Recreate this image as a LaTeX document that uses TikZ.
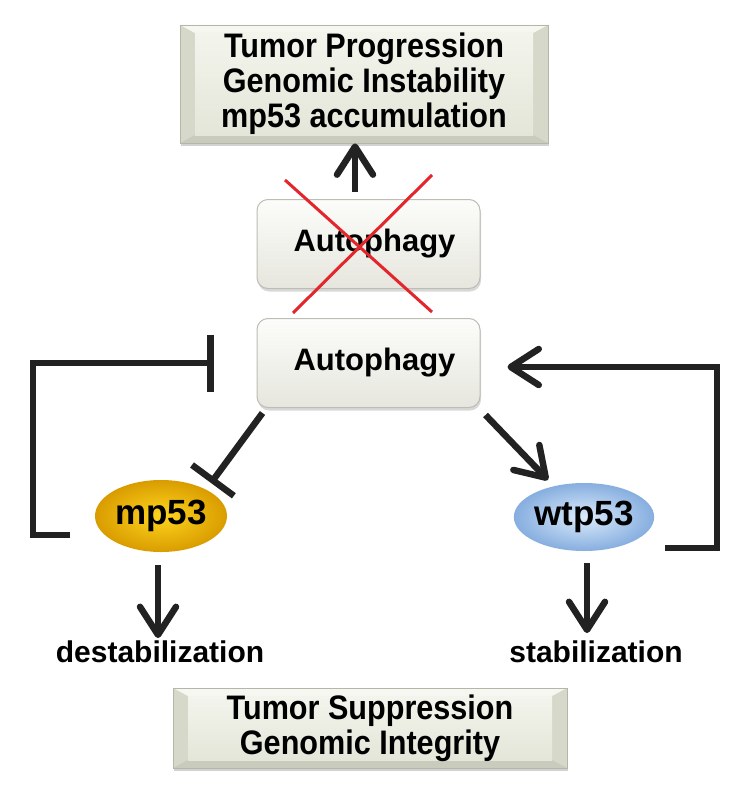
\documentclass[tikz,border=0pt]{standalone}
\usepackage{fontspec}
\setmainfont{Liberation Sans}
\newfontfamily\condfont{Liberation Sans}[FakeStretch=0.9]
\usetikzlibrary{arrows.meta,shapes.geometric,calc,shadows}
\definecolor{ink}{HTML}{222222}
\definecolor{facetop}{HTML}{F3F4EC}
\definecolor{facebot}{HTML}{E4E6D9}
\definecolor{bevtop}{HTML}{F6F7F1}
\definecolor{bevbot}{HTML}{C9CCBC}
\definecolor{bevside}{HTML}{D6D8C9}
\definecolor{boxline}{HTML}{B4B6A9}
\definecolor{autotop}{HTML}{FCFCFA}
\definecolor{autobot}{HTML}{E6E6DE}
\definecolor{autoline}{HTML}{BDBDB4}
\definecolor{goldin}{HTML}{FFD51E}
\definecolor{goldout}{HTML}{D99C00}
\definecolor{bluein}{HTML}{DCEBFB}
\definecolor{blueout}{HTML}{86AEDF}
\definecolor{redx}{HTML}{E3262B}
\begin{document}
\begin{tikzpicture}[x=1pt,y=-1pt,
  bevelbox/.style={draw=boxline, line width=0.8pt, fill=bevside,
    drop shadow={shadow xshift=1pt, shadow yshift=-2.5pt, opacity=0.35},
    align=center, inner sep=0pt,
    font=\condfont\bfseries\fontsize{34}{35}\selectfont,
    path picture={
      \coordinate (NW) at (path picture bounding box.north west);
      \coordinate (NE) at (path picture bounding box.north east);
      \coordinate (SW) at (path picture bounding box.south west);
      \coordinate (SE) at (path picture bounding box.south east);
      \fill[bevtop] (NW) -- (NE) -- ($(NE)+(-15pt,-8pt)$) -- ($(NW)+(15pt,-8pt)$) -- cycle;
      \fill[bevbot] (SW) -- (SE) -- ($(SE)+(-15pt,8pt)$) -- ($(SW)+(15pt,8pt)$) -- cycle;
      \shade[top color=facetop, bottom color=facebot] ($(NW)+(15pt,-8pt)$) rectangle ($(SE)+(-15pt,8pt)$);
    }},
  autobox/.style={draw=autoline, line width=1pt, rounded corners=11pt,
    top color=autotop, bottom color=autobot,
    drop shadow={shadow xshift=1pt, shadow yshift=-3pt, opacity=0.3},
    minimum width=223pt, minimum height=89pt, inner sep=0pt,
    font=\bfseries\fontsize{31}{35}\selectfont},
  protein/.style={ellipse, draw=none, inner sep=0pt,
    font=\bfseries\fontsize{35}{38}\selectfont},
  lbl/.style={inner sep=0pt, font=\bfseries\fontsize{30}{34}\selectfont},
  actarrow/.style={draw=ink, line width=6.5pt,
    -{Straight Barb[length=28pt,width=36pt,line width=6.5pt,round]}},
  inhibit/.style={draw=ink, line width=6.5pt, line join=miter,
    -{Bar[width=#1,line width=6.5pt]}},
  inhibit/.default=57pt,
  crossline/.style={draw=redx, line width=3pt}
]
\useasboundingbox (0,0) rectangle (750,800);
\fill[white] (0,0) rectangle (750,800);

% boxes
\node[bevelbox, minimum width=368pt, minimum height=118pt] (top) at (364,84)
  {Tumor Progression\\Genomic Instability\\mp53 accumulation};
\node[autobox] (box1) at (368.5,244) {\hspace*{12pt}Autophagy};
\node[autobox] (box2) at (368.5,363) {\hspace*{12pt}Autophagy};
\node[bevelbox, minimum width=394pt, minimum height=80pt] (bottom) at (370,728)
  {Tumor Suppression\\Genomic Integrity};

% proteins
\node[protein, minimum width=132pt, minimum height=72pt,
  inner color=goldin, outer color=goldout] (mp53) at (161,516) {mp53};
\node[protein, minimum width=134pt, minimum height=68pt,
  inner color=bluein, outer color=blueout] (wtp53) at (584,517) {wtp53};

% labels
\node[lbl, anchor=base] (destab) at (160,662) {destabilization};
\node[lbl, anchor=base] (stab) at (596,662) {stabilization};

% red cross over the first Autophagy box
\draw[crossline] (285,180) -- (432,312);
\draw[crossline] (432,175) -- (293,313);

% up arrow to tumor progression
\coordinate (up1) at ([shift={(-13.5pt,7pt)}]box1.north);
\draw[actarrow] (up1) -- (up1 |- top.south);

% left feedback: mp53 inhibits autophagy
\coordinate (mpL) at (70,535);
\coordinate (lcorner) at (33,363);
\coordinate (lbar) at ([xshift=-43pt]box2.west);
\draw[inhibit] (mpL) -| (lcorner) -- (lbar);

% right feedback: wtp53 activates autophagy
\coordinate (wtR) at (665,548);
\coordinate (rcorner) at (717,367);
\coordinate (rtip) at ([shift={(27pt,-4pt)}]box2.east);
\draw[actarrow, line join=miter] (wtR) -| (rcorner) -- (rtip);

% autophagy -> mp53 (inhibition), autophagy -> wtp53 (activation)
\coordinate (dl1) at ([shift={(6pt,-5pt)}]box2.south west);
\coordinate (dl2) at (211,483);
\draw[inhibit=52pt] (dl1) -- (dl2);
\coordinate (dr1) at ([shift={(5pt,-7pt)}]box2.south east);
\coordinate (dr2) at (548,480);
\draw[actarrow] (dr1) -- (dr2);

% down arrows
\coordinate (m1) at ([shift={(-3pt,-13pt)}]mp53.south);
\draw[actarrow] (m1) -- ([yshift=2pt]m1 |- destab.north);
\coordinate (w1) at ([shift={(3pt,-12pt)}]wtp53.south);
\draw[actarrow] (w1) -- ([yshift=7pt]w1 |- stab.north);
\end{tikzpicture}
\end{document}
